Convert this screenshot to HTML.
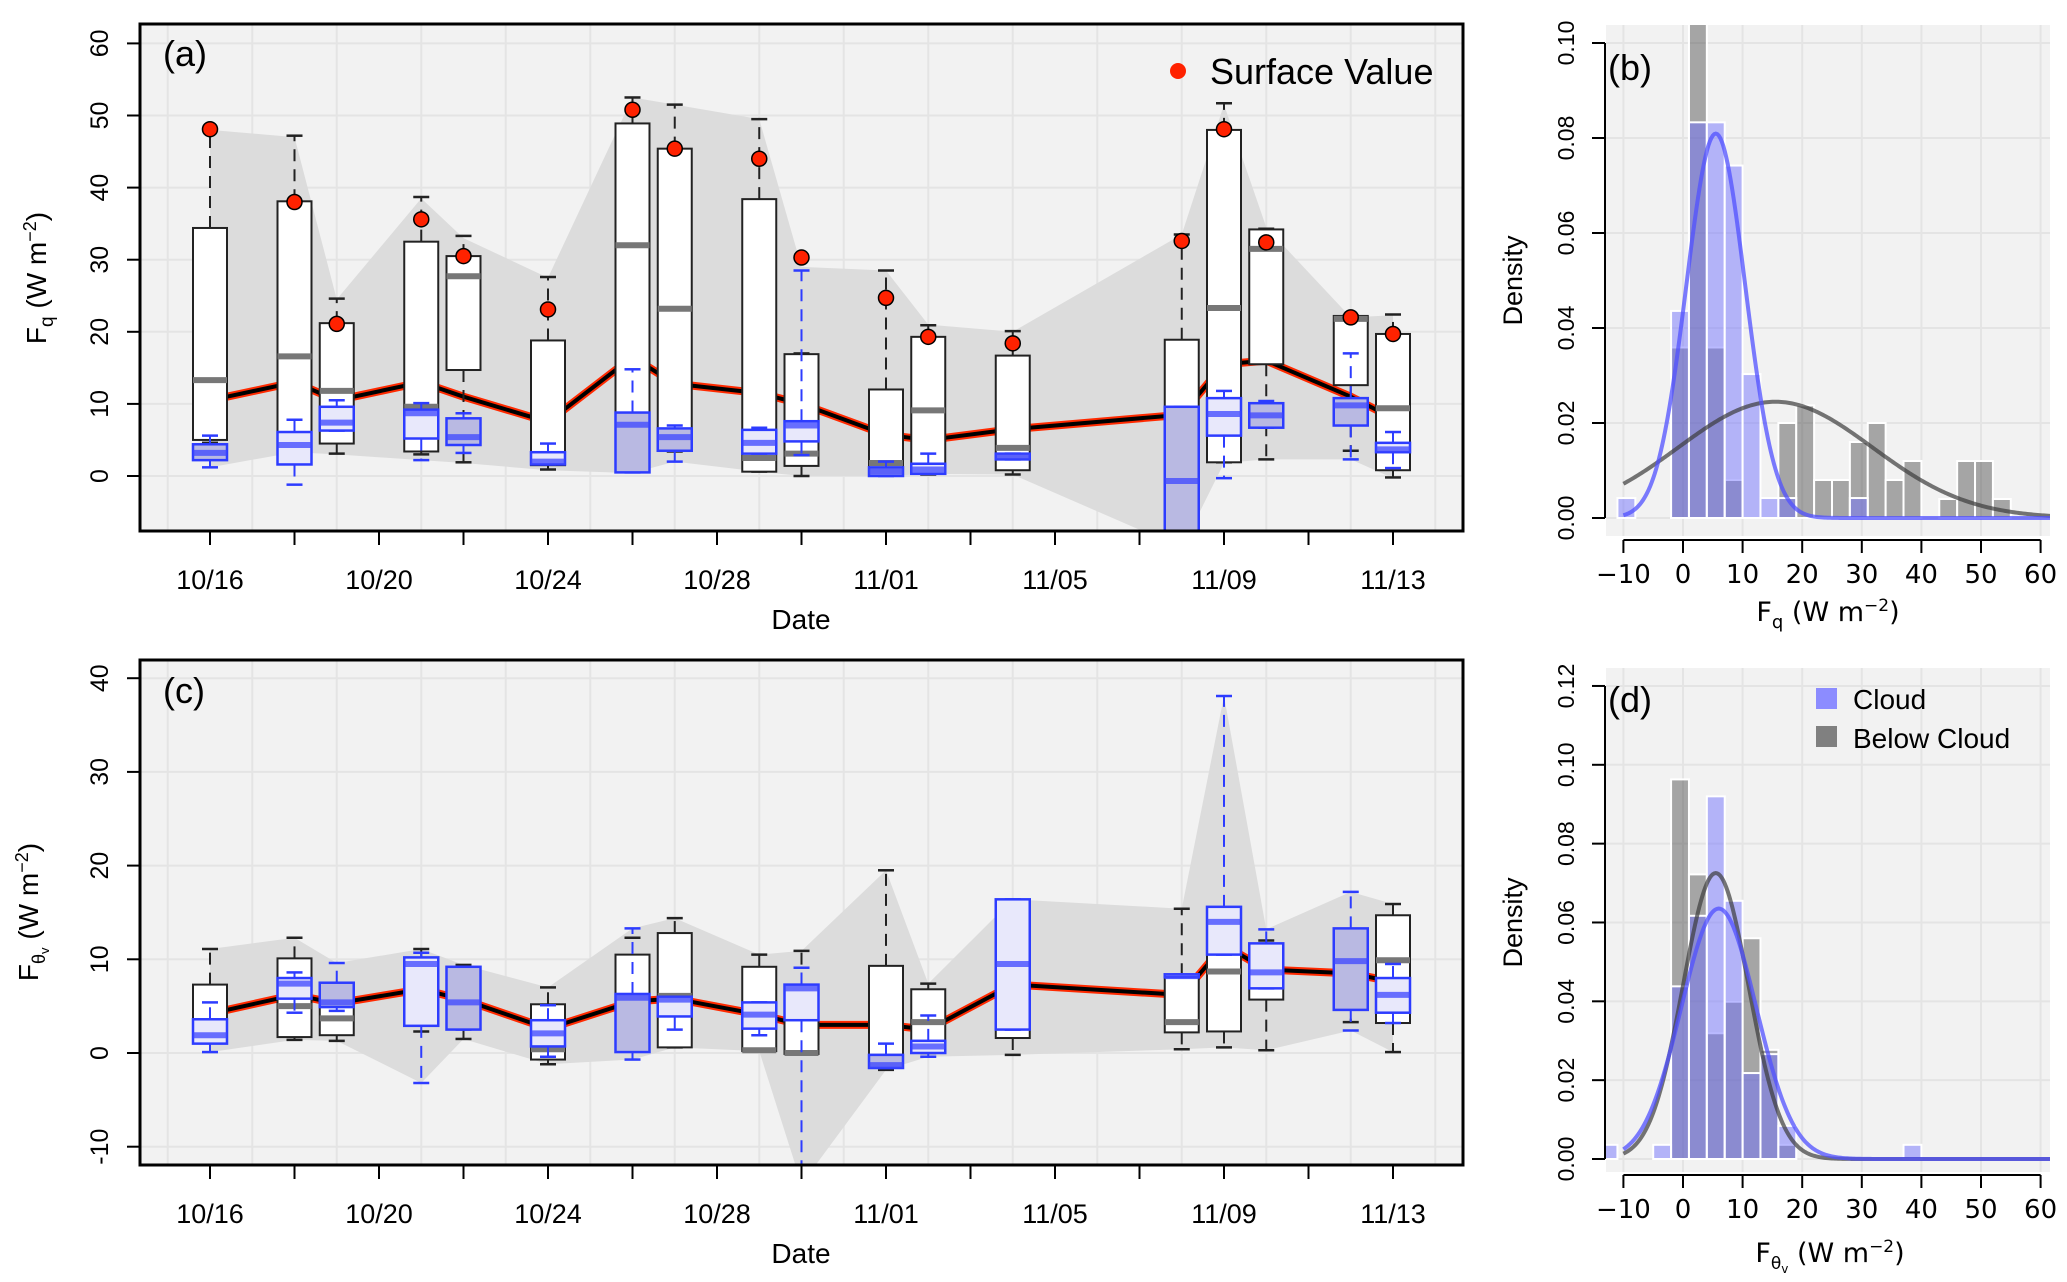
<!DOCTYPE html>
<html><head><meta charset="utf-8"><style>
html,body{margin:0;padding:0;background:#fff;}
svg{display:block;font-family:"Liberation Sans",sans-serif;}
</style></head><body>
<svg id="fig" xmlns="http://www.w3.org/2000/svg" width="2067" height="1282" viewBox="0 0 2067 1282">
<defs>
<clipPath id="clipA"><rect x="140" y="24" width="1323" height="507"/></clipPath>
<clipPath id="clipC"><rect x="140" y="660" width="1323" height="505"/></clipPath>
<clipPath id="clipB"><rect x="1606" y="25" width="444" height="511"/></clipPath>
<clipPath id="clipD"><rect x="1606" y="668" width="444" height="504"/></clipPath>
</defs>
</svg>
<script>
// ---------- data ----------
const days = [0,2,3,5,6,8,10,11,13,14,16,17,19,23,24,25,27,28];
const dateTicks = [0,2,4,6,8,10,12,14,16,18,20,22,24,26,28];
const dateLabels = ["10/16","","10/20","","10/24","","10/28","","11/01","","11/05","","11/09","","11/13"];
// panel a: [whiskerLow, q1, median, q3, whiskerHigh]
const aBelow = [[4.6,5.0,13.3,34.4,48],[3.4,3.5,16.6,38.1,47.2],[3.1,4.5,11.8,21.2,24.6],[3.0,3.4,9.6,32.5,38.7],[1.9,14.7,27.7,30.5,33.3],[0.9,1.5,1.9,18.8,27.6],[4.0,6.3,32.0,48.9,52.5],[3.4,3.6,23.2,45.4,51.5],[0.6,0.6,2.5,38.4,49.5],[0,1.4,3.1,16.9,17],[0.3,0.3,1.8,12.0,28.5],[0.2,0.3,9.1,19.3,20.9],[0.2,0.8,3.9,16.7,20.1],[1.9,2.6,4.1,18.9,33.5],[1.9,1.9,23.3,48.0,51.7],[2.3,15.5,31.5,34.2,34.3],[3.5,12.6,21.8,22.2,22.3],[-0.2,0.8,9.4,19.7,22.4]];
const aCloud = [[1.2,2.2,3.2,4.4,5.6],[-1.2,1.6,4.3,6.1,7.8],[6.3,6.3,7.4,9.6,10.5],[2.2,5.2,8.7,9.2,10.1],[3.2,4.3,5.4,8.0,8.7],[1.6,1.6,2.0,3.3,4.5],[0.5,0.5,7.1,8.8,14.8],[2.0,3.5,5.4,6.6,7.0],[3.1,3.1,4.6,6.4,6.7],[2.9,4.8,7.0,7.6,28.5],[0,0,0.6,1.2,2.0],[0.3,0.3,0.9,1.7,3.1],[2.3,2.3,2.7,3.1,3.1],[-15,-15,-0.7,9.6,9.6],[-0.3,5.6,8.6,10.8,11.8],[6.7,6.7,8.4,10.1,10.4],[2.3,7.0,9.8,10.8,17.0],[1.1,3.3,3.7,4.6,6.1]];
const aCloudFill = ["m","l","l","l","m","l","m","m","l","l","m","l","m","m","l","m","m","l"];
const aLine = [10.5,13,10.5,13,11,7.5,16.5,12.8,11.5,10,5.7,5,6.5,8.5,15.5,16,11,8];
const aUpper = [48,47,24.5,38.5,33,27.5,52.5,51.5,49.5,29,28.5,21,20,33.5,51.5,34.5,22,22.3];
const aLower = [1.2,3.3,3,2.2,1.8,0.8,0.4,2,0.6,0,0,0.3,0.2,-10,1.8,2.3,2.3,-0.3];
const aSurface = [48.1,38.0,21.1,35.6,30.5,23.1,50.8,45.4,44.0,30.3,24.7,19.3,18.4,32.6,48.1,32.4,22.0,19.7];
const aTicks = [0,10,20,30,40,50,60];
// panel c
const cBelow = [[1.1,1.1,2.4,7.3,11.1],[1.4,1.7,5.0,10.1,12.3],[1.3,1.9,3.7,5.3,6.4],[2.3,4.1,7.5,10.2,11.1],[1.5,4.6,7.6,8.6,9.4],[-1.2,-0.7,0.4,5.2,7.0],[1.0,3.1,4.9,10.5,12.3],[0.6,0.6,6.1,12.8,14.4],[0.2,0.2,0.3,9.2,10.5],[-0.1,-0.1,0.0,7.3,10.9],[-1.8,-0.6,-0.4,9.3,19.5],[0.0,0.0,3.3,6.8,7.4],[-0.2,1.6,6.9,12.6,14.7],[0.4,2.2,3.3,8.3,15.4],[0.6,2.3,8.7,14.6,15.5],[0.3,5.7,11.0,11.5,12.0],[3.3,5.8,8.4,8.7,8.7],[0.1,3.2,9.9,14.7,15.9]];
const cCloud = [[0.1,1.0,1.9,3.6,5.4],[4.3,5.8,7.4,8.0,8.6],[4.5,4.9,5.4,7.5,9.6],[-3.2,2.9,9.5,10.2,10.7],[2.5,2.5,5.4,9.2,9.2],[-0.4,0.7,2.1,3.5,5.1],[-0.7,0.1,5.9,6.3,13.3],[2.5,3.9,5.7,6.0,6.0],[1.9,2.6,4.1,5.4,5.4],[-14,3.5,6.9,7.3,9.1],[-1.6,-1.6,-1.3,-0.2,1.0],[-0.4,0.0,0.7,1.3,4.0],[2.5,2.5,9.5,16.4,16.4],[8.1,8.1,8.2,8.4,8.4],[10.5,10.5,14.0,15.6,38.1],[6.9,6.9,8.6,11.7,13.2],[2.4,4.6,9.8,13.3,17.2],[3.2,4.3,6.2,8.0,9.5]];
const cCloudFill = ["l","l","m","l","m","l","m","l","l","l","m","l","l","l","l","l","m","l"];
const cLine = [4.2,6.2,5.3,6.8,5.7,2.6,5.5,5.8,4.1,3.0,3.0,2.5,7.3,6.2,11.5,8.9,8.5,7.6];
const cUpper = [11.1,12.3,9.6,11.1,9.4,7.0,13.3,14.4,10.5,10.9,19.5,7.4,16.4,15.4,38.1,13.2,17.2,15.9];
const cLower = [0.1,1.4,1.3,-3.2,1.5,-1.2,-0.7,0.6,0.2,-14,-1.8,-0.4,-0.2,0.4,0.6,0.3,2.4,0.1];
const cTicks = [-10,0,10,20,30,40];
// histograms (bin width 3)
const bStart = -11;
const bCloud = [0.0042,0,0,0.0436,0.0833,0.0833,0.0742,0.0303,0.0042,0.0042,0,0,0,0.0042,0,0,0,0,0,0,0,0];
const bBelow = [0,0,0,0.0359,0.104,0.0359,0.008,0,0,0.02,0.0237,0.008,0.008,0.016,0.02,0.008,0.012,0,0.004,0.012,0.012,0.004];
const bCloudFit = [5.5,4.93];
const bBelowFit = [15.5,16.3];
const bTicks = [0,0.02,0.04,0.06,0.08,0.10];
const dStart = -14;
const dCloud = [0.0036,0,0,0.0036,0.0438,0.0617,0.092,0.0655,0.0218,0.0266,0.0084,0,0,0,0,0,0,0.0036];
const dBelow = [0,0,0,0,0.0963,0.0722,0.0319,0.0399,0.056,0.0277,0.0036,0,0,0,0,0,0,0];
const dCloudFit = [6.0,6.28];
const dBelowFit = [5.5,5.5];
const dTicks = [0,0.02,0.04,0.06,0.08,0.10,0.12];
const hxTicks = [-10,0,10,20,30,40,50,60];

// ---------- helpers ----------
const NS="http://www.w3.org/2000/svg";
const svg=document.getElementById('fig');
function mk(tag,attrs,parent){const e=document.createElementNS(NS,tag);for(const k in attrs)e.setAttribute(k,attrs[k]);(parent||svg).appendChild(e);return e;}
const X=d=>210+d*42.25;
const YA=v=>476-v*7.21;
const YC=v=>1053-v*9.37;
const HX=v=>1683+v*5.96;
const YB=v=>518-v*4750;
const YD=v=>1159-v*3942;

function boxPanel(pid,Y,clip,top,bottom,ticks,below,cloud,cfill,line,upper,lower,surface){
  const g=mk('g',{});
  
  
  const bg=mk('rect',{x:140,y:top,width:1323,height:bottom-top,fill:'#f2f2f2'},g);
  
  
  const pg=mk('g',{'clip-path':'url(#'+clip+')'},g);
  ticks.forEach(t=>{mk('line',{x1:140,x2:1463,y1:Y(t),y2:Y(t),stroke:'#e4e4e4','stroke-width':2},pg);});
  for(let d=-1;d<=29;d+=2){mk('line',{x1:X(d),x2:X(d),y1:top,y2:bottom,stroke:'#e4e4e4','stroke-width':2},pg);}
  let pts=days.map((d,i)=>X(d)+','+Y(upper[i]));
  pts=pts.concat(days.map((d,i)=>X(d)+','+Y(lower[i])).reverse());
  const env=mk('polygon',{points:pts.join(' '),fill:'#dcdcdc'},pg);
  
  
  const lp=days.map((d,i)=>X(d)+','+Y(line[i])).join(' ');
  mk('polyline',{points:lp,fill:'none',stroke:'#ff2a00','stroke-width':8,'stroke-linejoin':'round'},pg);
  const ml=mk('polyline',{points:lp,fill:'none',stroke:'#000','stroke-width':4,'stroke-linejoin':'round'},pg);
  
  
  function drawBox(s,x,isCloud,fill,i){
    const bg2=mk('g',{},pg);
    
    
    const col=isCloud?'#2d3cff':'#222';
    const w=17;
    mk('line',{x1:x,x2:x,y1:Y(s[3]),y2:Y(s[4]),stroke:col,'stroke-width':2,'stroke-dasharray':'12,8'},bg2);
    mk('line',{x1:x,x2:x,y1:Y(s[1]),y2:Y(s[0]),stroke:col,'stroke-width':2,'stroke-dasharray':'12,8'},bg2);
    mk('line',{x1:x-8,x2:x+8,y1:Y(s[4]),y2:Y(s[4]),stroke:col,'stroke-width':2.5},bg2);
    mk('line',{x1:x-8,x2:x+8,y1:Y(s[0]),y2:Y(s[0]),stroke:col,'stroke-width':2.5},bg2);
    const f=isCloud?(fill==='m'?'#b9b9e2':'#e8e8fb'):'#ffffff';
    const h=Math.max(Y(s[1])-Y(s[3]),3);
    mk('rect',{x:x-w,y:Y(s[3]),width:2*w,height:h,fill:f,stroke:col,'stroke-width':isCloud?2.5:2},bg2);
    mk('line',{x1:x-w,x2:x+w,y1:Y(s[2]),y2:Y(s[2]),stroke:isCloud?'rgba(60,70,255,0.75)':'#777','stroke-width':6},bg2);
  }
  days.forEach((d,i)=>drawBox(below[i],X(d),false,null,i));
  days.forEach((d,i)=>drawBox(cloud[i],X(d),true,cfill[i],i));
  if(surface){
    days.forEach((d,i)=>{
      const c=mk('circle',{cx:X(d),cy:Y(surface[i]),r:7.5,fill:'#ff2200',stroke:'#000','stroke-width':1.5},g);
      
      
    });
  }
  const fr=mk('rect',{x:140,y:top,width:1323,height:bottom-top,fill:'none',stroke:'#000','stroke-width':3},g);
  
  
  const ya=mk('g',{},g);
  
  
  ticks.forEach(t=>{
    mk('line',{x1:127,x2:140,y1:Y(t),y2:Y(t),stroke:'#000','stroke-width':2},ya);
    const tx=mk('text',{x:0,y:0,transform:`translate(108,${Y(t)}) rotate(-90)`,'text-anchor':'middle','font-size':25},ya);
    tx.textContent=String(t);
  });
  const xa=mk('g',{},g);
  
  
  dateTicks.forEach((d,i)=>{
    mk('line',{x1:X(d),x2:X(d),y1:bottom,y2:bottom+14,stroke:'#000','stroke-width':2},xa);
    if(dateLabels[i]){const tx=mk('text',{x:X(d),y:bottom+58,'text-anchor':'middle','font-size':27},xa);tx.textContent=dateLabels[i];}
  });
  const dt=mk('text',{x:801,y:bottom+98,'text-anchor':'middle','font-size':28},g);
  dt.textContent='Date';
  
  
  return g;
}

boxPanel('panel-a',YA,'clipA',24,531,aTicks,aBelow,aCloud,aCloudFill,aLine,aUpper,aLower,aSurface);
boxPanel('panel-c',YC,'clipC',660,1165,cTicks,cBelow,cCloud,cCloudFill,cLine,cUpper,cLower,null);

function histPanel(pid,Y,clip,top,bottom,yzero,ticks,start,cloud,below,cfit,bfit,ymaxTick){
  const g=mk('g',{});
  
  
  const bg=mk('rect',{x:1606,y:top,width:444,height:bottom-top,fill:'#f2f2f2'},g);
  
  
  const pg=mk('g',{'clip-path':'url(#'+clip+')'},g);
  ticks.forEach(t=>mk('line',{x1:1606,x2:2050,y1:Y(t),y2:Y(t),stroke:'#e4e4e4','stroke-width':2},pg));
  hxTicks.forEach(t=>mk('line',{x1:HX(t),x2:HX(t),y1:top,y2:bottom,stroke:'#e4e4e4','stroke-width':2},pg));
  below.forEach((v,k)=>{ if(v<=0)return;
    const r=mk('rect',{x:HX(start+3*k),y:Y(v),width:HX(3)-HX(0),height:Y(0)-Y(v),fill:'rgba(70,70,70,0.45)',stroke:'#fff','stroke-width':2},pg);
    
    
  });
  cloud.forEach((v,k)=>{ if(v<=0)return;
    const r=mk('rect',{x:HX(start+3*k),y:Y(v),width:HX(3)-HX(0),height:Y(0)-Y(v),fill:'rgba(110,110,255,0.48)',stroke:'#fff','stroke-width':2},pg);
    
    
  });
  function curve(fit,col,name){
    let p=[];for(let v=-10;v<=63;v+=0.25){const z=(v-fit[0])/fit[1];p.push(HX(v)+','+Y(Math.exp(-0.5*z*z)/(fit[1]*2.5066)));}
    const c=mk('polyline',{points:p.join(' '),fill:'none',stroke:col,'stroke-width':4},pg);
    
    
  }
  curve(bfit,'rgba(60,60,60,0.7)',pid+'-below-cloud-fit');
  curve(cfit,'rgba(80,80,255,0.75)',pid+'-cloud-fit');
  const ya=mk('g',{},g);
  
  
  mk('line',{x1:1605,x2:1605,y1:Y(0),y2:Y(ymaxTick),stroke:'#000','stroke-width':2},ya);
  ticks.forEach(t=>{
    mk('line',{x1:1592,x2:1605,y1:Y(t),y2:Y(t),stroke:'#000','stroke-width':2},ya);
    const tx=mk('text',{transform:`translate(1574,${Y(t)}) rotate(-90)`,'text-anchor':'middle','font-size':23},ya);
    tx.textContent=t.toFixed(2);
  });
  const yt=mk('text',{transform:`translate(1522,${(Y(0)+Y(ymaxTick))/2}) rotate(-90)`,'text-anchor':'middle','font-size':27},g);
  yt.textContent='Density';
  
  
  const xa=mk('g',{},g);
  
  
  mk('line',{x1:HX(-10),x2:HX(60),y1:yzero,y2:yzero,stroke:'#000','stroke-width':2},xa);
  hxTicks.forEach(t=>{
    mk('line',{x1:HX(t),x2:HX(t),y1:yzero,y2:yzero+13,stroke:'#000','stroke-width':2},xa);
    const tx=mk('text',{x:HX(t),y:yzero+43,'text-anchor':'middle','font-size':26,'font-family':'DejaVu Sans, sans-serif'},xa);
    tx.textContent=(t<0?'\u2212':'')+Math.abs(t);
  });
  return g;
}
histPanel('panel-b',YB,'clipB',25,536,540,bTicks,bStart,bCloud,bBelow,bCloudFit,bBelowFit,0.10);
histPanel('panel-d',YD,'clipD',668,1172,1175,dTicks,dStart,dCloud,dBelow,dCloudFit,dBelowFit,0.12);

function txt(s,attrs,name){const t=mk('text',attrs);t.innerHTML=s;return t;}
txt('(a)',{x:163,y:66,'font-size':36},'panel-a-label');
txt('(c)',{x:163,y:703,'font-size':36},'panel-c-label');
txt('(b)',{x:1608,y:80,'font-size':36},'panel-b-label');
txt('(d)',{x:1608,y:712,'font-size':36},'panel-d-label');
txt('F<tspan font-size="19" dy="7">q</tspan><tspan dy="-7"> (W m</tspan><tspan font-size="18" dy="-10">−2</tspan><tspan dy="10">)</tspan>',{transform:'translate(46,278) rotate(-90)','text-anchor':'middle','font-size':28},'panel-a-y-axis-title');
txt('F<tspan font-size="18" dy="7">θ</tspan><tspan font-size="13" dy="4">v</tspan><tspan dy="-11"> (W m</tspan><tspan font-size="18" dy="-10">−2</tspan><tspan dy="10">)</tspan>',{transform:'translate(38,912) rotate(-90)','text-anchor':'middle','font-size':28},'panel-c-y-axis-title');
txt('F<tspan font-size="18" dy="7">q</tspan><tspan dy="-7"> (W m</tspan><tspan font-size="17" dy="-10">−2</tspan><tspan dy="10">)</tspan>',{x:1828,y:621,'text-anchor':'middle','font-size':27,'font-family':'DejaVu Sans, sans-serif'},'panel-b-x-axis-title');
txt('F<tspan font-size="17" dy="7">θ</tspan><tspan font-size="12" dy="4">v</tspan><tspan dy="-11"> (W m</tspan><tspan font-size="17" dy="-10">−2</tspan><tspan dy="10">)</tspan>',{x:1830,y:1262,'text-anchor':'middle','font-size':27,'font-family':'DejaVu Sans, sans-serif'},'panel-d-x-axis-title');
const la=mk('g',{});


mk('circle',{cx:1178,cy:71,r:8,fill:'#ff2200'},la);
const lat=mk('text',{x:1210,y:84,'font-size':36},la);lat.textContent='Surface Value';
const ld=mk('g',{});


mk('rect',{x:1816,y:688,width:21,height:21,fill:'#8c8cff'},ld);
mk('rect',{x:1816,y:726,width:21,height:21,fill:'#808080'},ld);
const l1=mk('text',{x:1853,y:709,'font-size':28},ld);l1.textContent='Cloud';
const l2=mk('text',{x:1853,y:748,'font-size':28},ld);l2.textContent='Below Cloud';
</script>
</body></html>
